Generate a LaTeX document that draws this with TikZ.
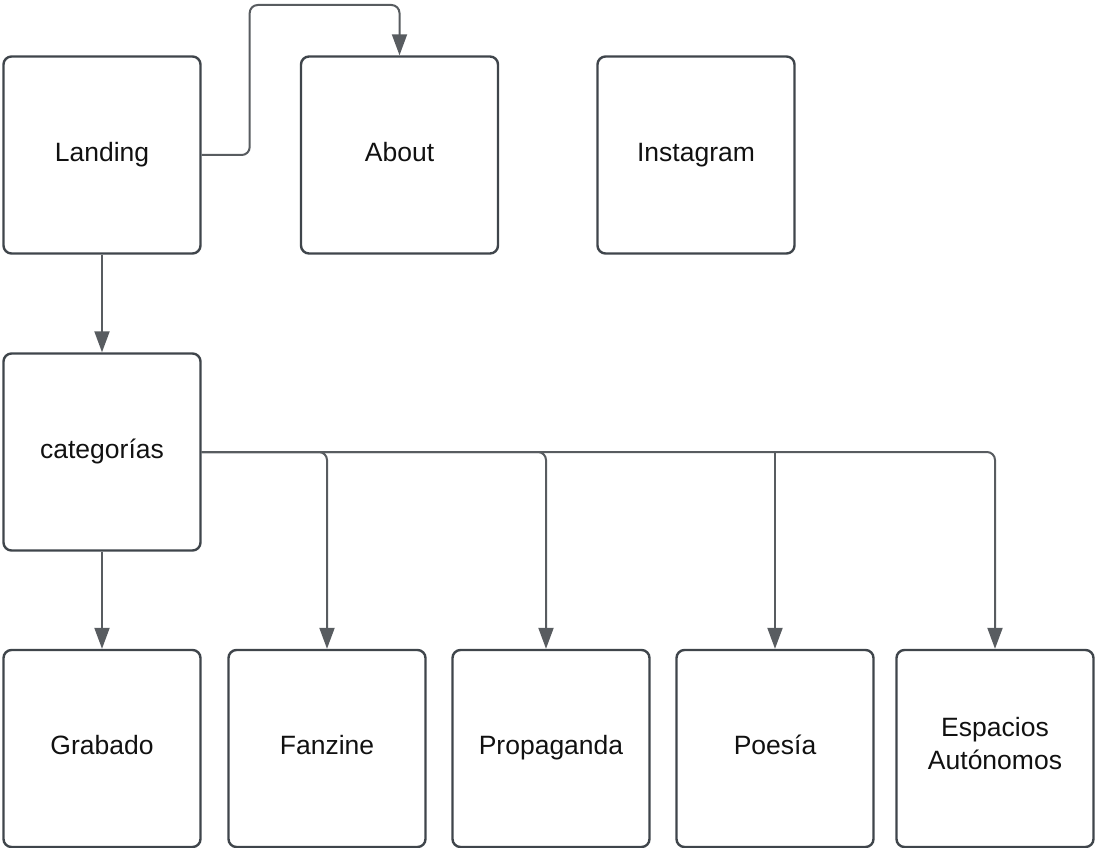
\documentclass[tikz,border=0pt]{standalone}
\usepackage{fontspec}
\setmainfont{Liberation Sans}
\usetikzlibrary{arrows.meta}
\definecolor{boxline}{HTML}{3F454B}
\definecolor{connline}{HTML}{585C60}
\definecolor{txt}{HTML}{111111}
\begin{document}
\begin{tikzpicture}[x=1pt,y=-1pt,
  pagebox/.style={draw=boxline, line width=2.4pt, rounded corners=8pt,
    minimum width=197pt, minimum height=197pt, inner sep=0pt, align=center,
    text height=19pt, text depth=7pt,
    font=\fontsize{26.5pt}{33pt}\selectfont, text=txt},
  conn/.style={draw=connline, line width=2pt, rounded corners=8pt,
    -{Triangle[length=21pt,width=15pt]}}]
\useasboundingbox (0,0) rectangle (1095,848);
\node[pagebox] (landing) at (102,155) {Landing};
\node[pagebox] (about) at (399.5,155) {About};
\node[pagebox] (insta) at (696,155) {Instagram};
\node[pagebox] (cat) at (102,452) {categorías};
\node[pagebox] (grab) at (102,748.5) {Grabado};
\node[pagebox] (fan) at (327,748.5) {Fanzine};
\node[pagebox] (prop) at (551,748.5) {Propaganda};
\node[pagebox] (poe) at (775,748.5) {Poesía};
\node[pagebox, text height=41pt, text depth=0pt] (esp) at (995,748.5) {Espacios\\Autónomos};
\coordinate (topbend) at (399.5,5);
\draw[conn] (landing.east) -- ++(48,0) |- (topbend) -- (about.north);
\draw[conn] (landing.south) -- (cat.north);
\draw[conn] (cat.south) -- (grab.north);
\draw[conn] (cat.east) -| (fan.north);
\draw[conn] (cat.east) -| ([xshift=-5pt]prop.north);
\draw[conn] (cat.east) -| (esp.north);
\draw[conn] (cat.east -| poe.north) -- (poe.north);
\end{tikzpicture}
\end{document}
